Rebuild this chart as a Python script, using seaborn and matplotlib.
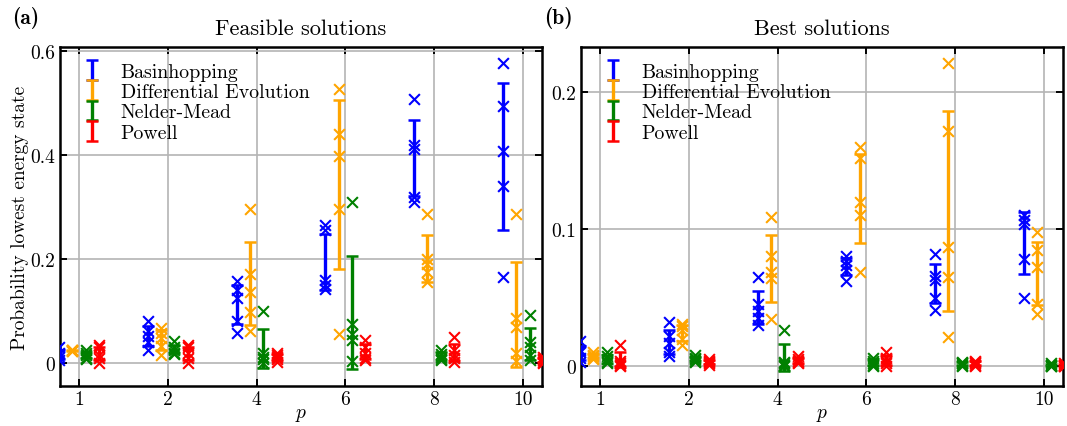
import numpy as np
import pandas as pd
import matplotlib
matplotlib.use("Agg")
import matplotlib.pyplot as plt
import seaborn as sns
from matplotlib.ticker import FuncFormatter

# ---------------- data ----------------
p_labels = ["1", "2", "4", "6", "8", "10"]
methods = ["Basinhopping", "Differential Evolution", "Nelder-Mead", "Powell"]
method_colors = ["blue", "orange", "green", "red"]

# Feasible solutions: probability of lowest energy state, 5 runs per p
feas_basinhopping = [[0.030, 0.020, 0.018, 0.012, 0.005],
                     [0.080, 0.062, 0.052, 0.040, 0.025],
                     [0.158, 0.140, 0.125, 0.080, 0.057],
                     [0.265, 0.255, 0.160, 0.150, 0.142],
                     [0.508, 0.418, 0.412, 0.318, 0.310],
                     [0.577, 0.494, 0.408, 0.340, 0.165]]
feas_diffevol = [[0.026, 0.025, 0.024, 0.025, 0.023],
                 [0.068, 0.058, 0.048, 0.032, 0.015],
                 [0.296, 0.172, 0.137, 0.098, 0.062],
                 [0.527, 0.440, 0.398, 0.296, 0.056],
                 [0.287, 0.200, 0.190, 0.175, 0.155],
                 [0.287, 0.087, 0.070, 0.020, 0.004]]
feas_neldermead = [[0.025, 0.020, 0.015, 0.010, 0.008],
                   [0.042, 0.030, 0.025, 0.020, 0.018],
                   [0.100, 0.020, 0.012, 0.008, 0.000],
                   [0.310, 0.075, 0.055, 0.045, 0.004],
                   [0.025, 0.018, 0.012, 0.008, 0.005],
                   [0.092, 0.040, 0.030, 0.015, 0.005]]
feas_powell = [[0.035, 0.030, 0.015, 0.010, 0.000],
               [0.035, 0.030, 0.020, 0.010, 0.000],
               [0.020, 0.015, 0.012, 0.008, 0.003],
               [0.045, 0.030, 0.020, 0.010, 0.005],
               [0.050, 0.025, 0.015, 0.010, 0.003],
               [0.012, 0.008, 0.005, 0.003, 0.001]]

# Best solutions
best_basinhopping = [[0.018, 0.012, 0.010, 0.006, 0.003],
                     [0.032, 0.022, 0.017, 0.010, 0.007],
                     [0.065, 0.045, 0.040, 0.035, 0.030],
                     [0.080, 0.077, 0.074, 0.070, 0.062],
                     [0.082, 0.066, 0.063, 0.050, 0.041],
                     [0.110, 0.107, 0.104, 0.078, 0.050]]
best_diffevol = [[0.010, 0.008, 0.007, 0.006, 0.005],
                 [0.031, 0.029, 0.026, 0.020, 0.015],
                 [0.109, 0.080, 0.069, 0.064, 0.034],
                 [0.160, 0.152, 0.120, 0.110, 0.069],
                 [0.221, 0.172, 0.087, 0.065, 0.021],
                 [0.098, 0.085, 0.072, 0.045, 0.038]]
best_neldermead = [[0.010, 0.007, 0.005, 0.003, 0.002],
                   [0.008, 0.006, 0.005, 0.004, 0.003],
                   [0.026, 0.003, 0.002, 0.001, 0.000],
                   [0.006, 0.004, 0.002, 0.001, 0.000],
                   [0.003, 0.002, 0.002, 0.001, 0.000],
                   [0.002, 0.001, 0.001, 0.000, 0.000]]
best_powell = [[0.015, 0.004, 0.002, 0.001, 0.000],
               [0.005, 0.004, 0.003, 0.002, 0.001],
               [0.007, 0.005, 0.004, 0.003, 0.002],
               [0.010, 0.006, 0.004, 0.002, 0.000],
               [0.004, 0.003, 0.002, 0.001, 0.000],
               [0.002, 0.001, 0.001, 0.000, 0.000]]

panels = [
    ("Feasible solutions", "(a)", [feas_basinhopping, feas_diffevol, feas_neldermead, feas_powell]),
    ("Best solutions", "(b)", [best_basinhopping, best_diffevol, best_neldermead, best_powell]),
]

# ---------------- style ----------------
sns.set_theme(style="ticks")
plt.rcParams.update({
    "font.family": ["cmr10", "DejaVu Serif"],
    "mathtext.fontset": "cm",
    "axes.formatter.use_mathtext": True,
    "axes.unicode_minus": False,
    "axes.linewidth": 1.8,
    "axes.edgecolor": "black",
    "xtick.direction": "in",
    "ytick.direction": "in",
    "xtick.top": True,
    "ytick.right": True,
    "xtick.major.size": 5,
    "ytick.major.size": 5,
    "xtick.major.width": 1.4,
    "ytick.major.width": 1.4,
    "xtick.color": "black",
    "ytick.color": "black",
    "xtick.labelsize": 14,
    "ytick.labelsize": 14,
    "text.color": "black",
    "axes.labelcolor": "black",
})

fig = plt.figure(figsize=(10.67, 4.27), dpi=100)
ax_a = fig.add_axes([0.0562, 0.0937, 0.4517, 0.7939])
ax_b = fig.add_axes([0.5445, 0.0937, 0.4517, 0.7939])
axes = [ax_a, ax_b]

offsets = np.array([-0.225, -0.075, 0.075, 0.225])
xpos = np.arange(len(p_labels))
ylims = [(-0.044, 0.607), (-0.0146, 0.233)]
yticks = [[0, 0.2, 0.4, 0.6], [0, 0.1, 0.2]]

for k, (ax, (title, tag, series)) in enumerate(zip(axes, panels)):
    ax.grid(True, color="#b4b4b4", linewidth=1.2, zorder=0)
    ax.set_axisbelow(True)
    for i, (name, col, vals) in enumerate(zip(methods, method_colors, series)):
        arr = np.array(vals)
        means = arr.mean(axis=1)
        stds = arr.std(axis=1)
        xs = xpos + offsets[i]
        ax.errorbar(xs, means, yerr=stds, fmt="none", ecolor=col,
                    elinewidth=2.4, capsize=4.2, capthick=1.8,
                    label=name, zorder=3 + i)
        df = pd.DataFrame({
            "x": np.repeat(xs, arr.shape[1]),
            "y": arr.ravel(),
        })
        sns.scatterplot(data=df, x="x", y="y", ax=ax, color=col, marker="x",
                        s=60, linewidth=1.5, legend=False, zorder=3.5 + i)
    ax.set_xlim(-0.215, 5.215)
    ax.set_ylim(*ylims[k])
    ax.set_xticks(xpos)
    ax.set_xticklabels(p_labels)
    ax.set_yticks(yticks[k])
    ax.yaxis.set_major_formatter(FuncFormatter(lambda v, _: f"{v:g}"))
    ax.tick_params(axis="x", pad=3)
    ax.set_xlabel("$p$", fontsize=14)
    ax.xaxis.set_label_coords(0.5, -0.055)
    ax.set_ylabel("")
    ax.set_title(title, fontsize=16, pad=9)
    ax.legend(loc="upper left", frameon=False, fontsize=14.3,
              labelspacing=0.12, handlelength=1.6, handletextpad=0.65,
              borderaxespad=0.4)

ax_a.set_ylabel("Probability lowest energy state", fontsize=14, labelpad=1)

fig.text(0.011, 0.957, "(a)", fontsize=15.5, family="cmb10", va="center")
fig.text(0.510, 0.957, "(b)", fontsize=15.5, family="cmb10", va="center")

fig.savefig("out.png", dpi=100)
